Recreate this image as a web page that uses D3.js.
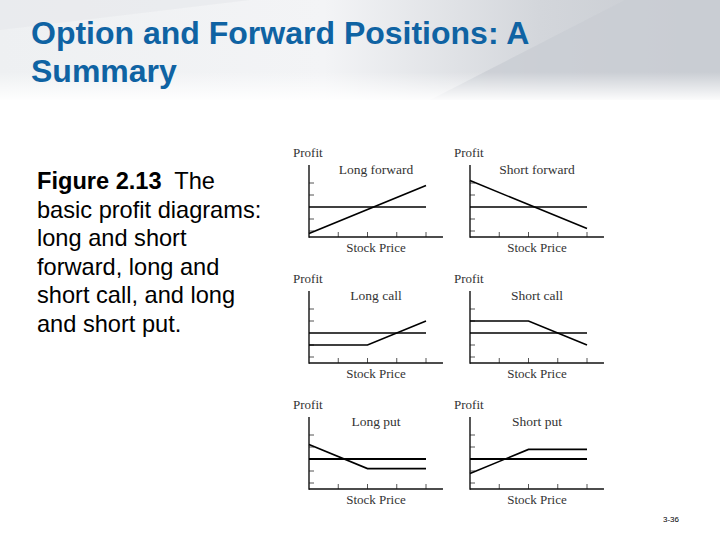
<!DOCTYPE html>
<html>
<head>
<meta charset="utf-8">
<script src="https://cdn.jsdelivr.net/npm/d3@7"></script>
<style>
  body { margin: 0; background: #fff; }
  svg { display: block; }
</style>
</head>
<body>
<div id="chart"></div>
<script>
// panel names, laid out in rows of two
const panelNames = ["Long forward", "Short forward", "Long call", "Short call", "Long put", "Short put"];
// payoff lines: [stock price, profit] points
const longForward = [[0, -2.2], [4, 1.8]];
const shortForward = [[0, 2.2], [4, -1.8]];
const longCall = [[0, -1], [2, -1], [4, 1]];
const shortCall = [[0, 1], [2, 1], [4, -1]];
const longPut = [[0, 1.2], [2, -0.8], [4, -0.8]];
const shortPut = [[0, -1.2], [2, 0.8], [4, 0.8]];
const payoffs = [longForward, shortForward, longCall, shortCall, longPut, shortPut];
const zeroLine = [[0, 0], [4, 0]];
const xTickValues = [1, 2, 3, 4];
const yTickValues = [-2, -1, 1, 2];
const captionLines = ["basic profit diagrams:", "long and short", "forward, long and", "short call, and long", "and short put."];

const w = 720, h = 540;
const svg = d3.select("#chart").append("svg")
  .attr("width", w).attr("height", h);

// header background
const defs = svg.append("defs");
const hg = defs.append("linearGradient").attr("id", "hg");
hg.append("stop").attr("offset", "0%").attr("stop-color", "#eef0f2");
hg.append("stop").attr("offset", "45%").attr("stop-color", "#f3f4f6");
hg.append("stop").attr("offset", "75%").attr("stop-color", "#d3d6db");
hg.append("stop").attr("offset", "100%").attr("stop-color", "#c6cad0");
const fade = defs.append("linearGradient").attr("id", "fade")
  .attr("x1", 0).attr("y1", 0).attr("x2", 0).attr("y2", 1);
fade.append("stop").attr("offset", "0%").attr("stop-color", "#fff").attr("stop-opacity", 0);
fade.append("stop").attr("offset", "100%").attr("stop-color", "#fff").attr("stop-opacity", 1);

svg.append("rect").attr("width", w).attr("height", 100).attr("fill", "url(#hg)");
svg.append("path").attr("d", "M430,100 L625,0 L720,0 L720,100 Z").attr("fill", "#c9cdd3").attr("opacity", 0.8);
svg.append("path").attr("d", "M0,30 L250,0 L0,0 Z").attr("fill", "#e6e8eb").attr("opacity", 0.6);
svg.append("rect").attr("y", 72).attr("width", w).attr("height", 30).attr("fill", "url(#fade)");

// title
const title = svg.append("text")
  .attr("font-family", "Liberation Sans, Arial, sans-serif")
  .attr("font-weight", "bold").attr("font-size", 32).attr("fill", "#0f63a3");
title.append("tspan").attr("x", 31).attr("y", 44).text("Option and Forward Positions: A");
title.append("tspan").attr("x", 31).attr("y", 82).text("Summary");

// caption
const cap = svg.append("text")
  .attr("font-family", "Liberation Sans, Arial, sans-serif")
  .attr("font-size", 23.6).attr("fill", "#000");
cap.append("tspan").attr("x", 37).attr("y", 189).attr("font-weight", "bold").text("Figure 2.13");
cap.append("tspan").attr("xml:space", "preserve").text("  The");
captionLines.forEach((t, i) => {
  cap.append("tspan").attr("x", 37).attr("y", 189 + (i + 1) * 28.6).text(t);
});

// footer
svg.append("text").attr("x", 663).attr("y", 522)
  .attr("font-family", "Liberation Sans, Arial, sans-serif")
  .attr("font-size", 8).attr("fill", "#000").text("3-36");

// panels
const colX = [309, 470];
const rowY = [237, 363, 489];

payoffs.forEach((data, i) => {
  const ox = colX[i % 2], oy = rowY[Math.floor(i / 2)];
  const g = svg.append("g").attr("transform", `translate(${ox},${oy})`);

  const x = d3.scaleLinear().domain([0, 4]).range([0, 117]);
  const y = d3.scaleLinear().domain([-2.5, 3.5]).range([0, -72]);
  const line = d3.line().x(d => x(d[0])).y(d => y(d[1]));

  // ticks
  g.selectAll(".xt").data(xTickValues).enter().append("line")
    .attr("x1", d => x(d)).attr("x2", d => x(d))
    .attr("y1", 0).attr("y2", -5)
    .attr("stroke", "#555").attr("stroke-width", 1);
  g.selectAll(".yt").data(yTickValues).enter().append("line")
    .attr("x1", 0).attr("x2", 5)
    .attr("y1", d => y(d)).attr("y2", d => y(d))
    .attr("stroke", "#555").attr("stroke-width", 1);

  // axes
  g.append("line").attr("x1", 0).attr("x2", 0).attr("y1", 0.7).attr("y2", y(3.5))
    .attr("stroke", "#111").attr("stroke-width", 1.4);
  g.append("line").attr("x1", 0).attr("x2", x(4.58)).attr("y1", 0).attr("y2", 0)
    .attr("stroke", "#111").attr("stroke-width", 1.4);

  // zero profit line
  g.append("path").attr("d", line(zeroLine)).attr("fill", "none")
    .attr("stroke", "#000").attr("stroke-width", i >= 4 ? 2.2 : 1.6);
  // payoff
  g.append("path").attr("d", line(data)).attr("fill", "none")
    .attr("stroke", "#000").attr("stroke-width", 1.6);

  const serif = "Liberation Serif, Times New Roman, serif";
  g.append("text").attr("x", -16).attr("y", y(3.5) - 8)
    .attr("font-family", serif).attr("font-size", 13).attr("fill", "#333").text("Profit");
  g.append("text").attr("x", 67).attr("y", y(3.5) + 8.5).attr("text-anchor", "middle")
    .attr("font-family", serif).attr("font-size", 13.5).attr("fill", "#333").text(panelNames[i]);
  g.append("text").attr("x", 67).attr("y", 15).attr("text-anchor", "middle")
    .attr("font-family", serif).attr("font-size", 13).attr("fill", "#333").text("Stock Price");
});
</script>
</body>
</html>
